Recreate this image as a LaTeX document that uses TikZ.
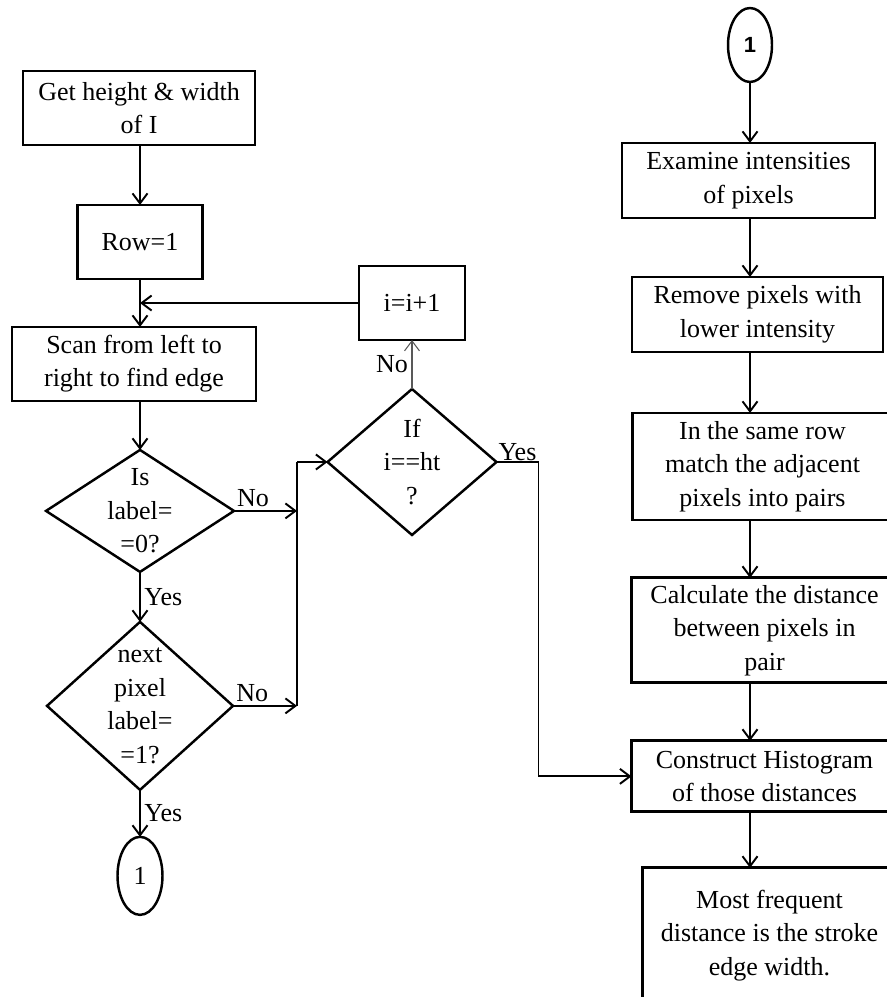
\documentclass[tikz,border=0pt]{standalone}
\usepackage{fontspec}
\setmainfont{Liberation Serif}
\setsansfont{Liberation Sans}
\usetikzlibrary{arrows.meta,positioning,shapes.geometric}

\begin{document}
\begin{tikzpicture}[
  x=0.02cm,y=-0.02cm,
  >={Straight Barb[length=2mm,width=3mm]},
  every node/.style={font=\fontsize{14.8}{19}\selectfont},
  box/.style={draw,line width=1.6pt,align=center,inner sep=2pt,outer sep=0pt},
  decision/.style={draw,diamond,line width=1.4pt,align=center,inner xsep=-3cm,inner ysep=-3cm,outer sep=0pt},
  connector/.style={draw,ellipse,line width=1.4pt,inner sep=0pt,outer sep=0pt},
  flow/.style={->,line width=1.1pt},
  tag/.style={inner sep=2pt}
]
\useasboundingbox (0,0) rectangle (886,997);
\node[box,minimum width=4.64cm,minimum height=1.48cm] (getsize) at (139,108) {Get height \& width\\of I};
\node[box,minimum width=2.5cm,minimum height=1.48cm,below=1.2cm of getsize,xshift=0.02cm] (rowone) {Row=1};
\node[box,minimum width=4.88cm,minimum height=1.48cm,below=0.96cm of rowone,xshift=-0.12cm] (scan) {Scan from left to\\right to find edge};
\node[decision,minimum width=3.76cm,minimum height=2.44cm,below=0.98cm of scan,xshift=0.12cm] (islabel) {Is\\label=\\=0?};
\node[decision,minimum width=3.72cm,minimum height=3.36cm,below=1.0cm of islabel] (nextpix) {next\\pixel\\label=\\=1?};
\node[connector,minimum width=0.9cm,minimum height=1.56cm,below=0.94cm of nextpix] (conn1) {1};
\node[decision,minimum width=3.38cm,minimum height=2.92cm] (ifht) at (412,462) {If\\i==ht\\?};
\node[box,minimum width=2.12cm,minimum height=1.48cm,above=0.98cm of ifht] (incr) {i=i+1};
\coordinate (bus) at (297,462);

\node[connector,minimum width=0.88cm,minimum height=1.48cm] (conn2) at (750,45) {\fontsize{12.5}{14}\sffamily\bfseries 1};
\node[box,minimum width=5.06cm,minimum height=1.5cm,below=1.22cm of conn2,xshift=-0.03cm] (examine) {Examine intensities\\of pixels};
\node[box,minimum width=5.02cm,minimum height=1.5cm,below=1.18cm of examine,xshift=0.18cm] (remove) {Remove pixels with\\lower intensity};
\node[box,minimum width=5.2cm,minimum height=2.14cm,below=1.22cm of remove,xshift=0.1cm] (samerow) {In the same row\\match the adjacent\\pixels into pairs};
\node[box,minimum width=5.32cm,minimum height=2.1cm,below=1.16cm of samerow,xshift=0.04cm] (calc) {Calculate the distance\\between pixels in\\pair};
\node[box,minimum width=5.32cm,minimum height=1.42cm,below=1.16cm of calc] (hist) {Construct Histogram\\of those distances};
\node[box,minimum width=5.08cm,minimum height=2.7cm,below=1.12cm of hist,xshift=0.1cm] (freq) {Most frequent\\distance is the stroke\\edge width.};

\draw[flow] (getsize.south -| rowone) -- (rowone.north);
\draw[flow] (rowone.south) -- (rowone.south |- scan.north);
\draw[flow] (incr.west) -- (incr.west -| rowone.south);
\draw[flow] (islabel.north |- scan.south) -- (islabel.north);
\draw[flow] (islabel.south) -- node[tag,right,pos=0.5]{Yes} (nextpix.north);
\draw[flow] (nextpix.south) -- node[tag,right,pos=0.5]{Yes} (conn1.north);
\draw[flow] (islabel.east) -- node[tag,above,pos=0.3]{No} (islabel.east -| bus);
\draw[flow] (nextpix.east) -- node[tag,above,pos=0.3]{No} (nextpix.east -| bus);
\draw[line width=1.1pt] (nextpix.east -| bus) -- (bus);
\draw[flow] (bus) -- (ifht.west);
\draw[->,line width=0.6pt,gray!70!black] (ifht.north) -- node[tag,left,text=black]{No} (incr.south);
\draw[flow] (ifht.east) -- node[above,inner sep=0pt]{Yes} ++(0.84cm,0) |- (hist.west);

\draw[flow] (conn2.south) -- (conn2.south |- examine.north);
\draw[flow] (examine.south -| conn2) -- (remove.north -| conn2);
\draw[flow] (remove.south -| conn2) -- (samerow.north -| conn2);
\draw[flow] (samerow.south -| conn2) -- (calc.north -| conn2);
\draw[flow] (calc.south -| conn2) -- (hist.north -| conn2);
\draw[flow] (hist.south -| conn2) -- (freq.north -| conn2);
\end{tikzpicture}
\end{document}
